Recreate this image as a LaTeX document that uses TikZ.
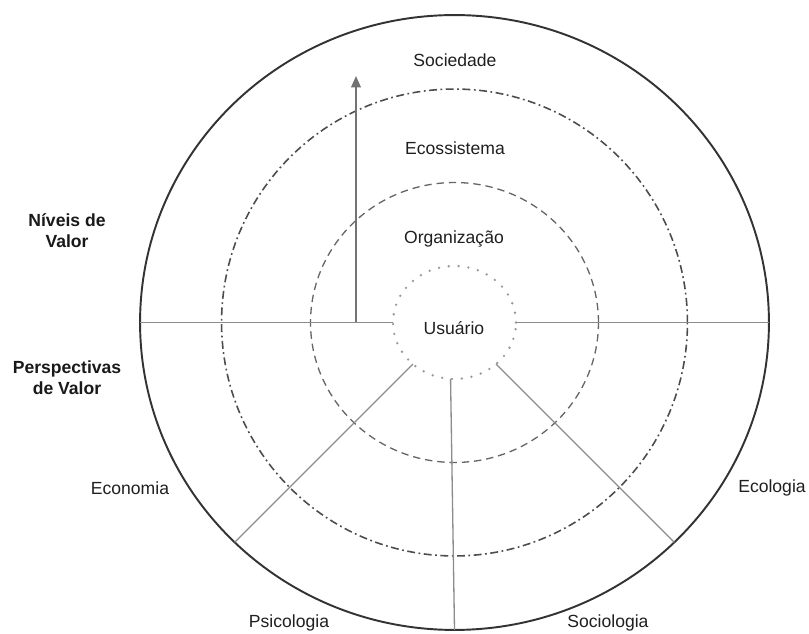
\documentclass[tikz,border=0pt]{standalone}
\usepackage{fontspec}
\setmainfont{Liberation Sans}
\usetikzlibrary{arrows.meta, positioning, shapes.geometric}

\begin{document}
\begin{tikzpicture}[x=0.02cm, y=0.02cm,
  ring/.style={ellipse, draw, inner sep=0pt, outer sep=0pt},
  spoke/.style={draw=black!45, line width=0.75pt},
  lbl/.style={font=\fontsize{10}{12}\selectfont, text=black!88},
  side/.style={font=\fontsize{10}{12}\selectfont\bfseries, text=black!90,
               align=center},
]
\useasboundingbox (0,0) rectangle (809,633);

% ---- Rings -----------------------------------------------------------------
\coordinate (C) at (454.5, 310.5);
\node[ring, draw=black!80, line width=1.1pt,
      minimum width=12.58cm, minimum height=12.3cm] (soc) at (C) {};
\node[ring, draw=black!70, line width=0.9pt,
      dash pattern=on 4.5pt off 2pt on 1pt off 2pt,
      minimum width=9.32cm, minimum height=9.34cm] (eco) at (C) {};
\node[ring, draw=black!60, line width=0.75pt, dash pattern=on 4.2pt off 2.8pt,
      minimum width=5.76cm, minimum height=5.6cm] (org) at (C) {};
\node[ring, draw=black!40, line width=1.5pt, line cap=round,
      dash pattern=on 0pt off 5.6pt,
      minimum width=2.46cm, minimum height=2.26cm] (usr) at (C) {};

% ---- Divider and spokes ----------------------------------------------------
\draw[spoke] (soc.west) -- (usr.west);
\draw[spoke] (usr.east) -- (soc.east);
\foreach \a/\b in {-135/-135, -94/-90, -45/-45} {
  \draw[spoke] (usr.\a) -- (soc.\b);
}

% ---- Level arrow -----------------------------------------------------------
\coordinate (abase) at (356, 310.5);
\coordinate (atip) at (356, 557);
\draw[black!55, line width=1.1pt, -{Triangle[length=6.5pt, width=5.5pt]}]
  (abase) -- (atip);

% ---- Level labels ----------------------------------------------------------
\node[lbl] (lsoc) at (455, 573) {Sociedade};
\node[lbl] (leco) at (455, 485) {Ecossistema};
\node[lbl] (lorg) at (454, 394) {Organização};
\node[lbl] (lusr) at (454, 305) {Usuário};

% ---- Side headings ---------------------------------------------------------
\node[side] (niv) at (67, 402) {Níveis de\\Valor};
\node[side] (per) at (67, 255) {Perspectivas\\de Valor};

% ---- Perspective labels ----------------------------------------------------
\node[lbl] (leconomia) at (130, 145) {Economia};
\node[lbl] (lecologia) at (772, 145) {Ecologia};
\node[lbl] (lpsico) at (289, 10) {Psicologia};
\node[lbl] (lsocio) at (608, 10) {Sociologia};

\end{tikzpicture}
\end{document}
